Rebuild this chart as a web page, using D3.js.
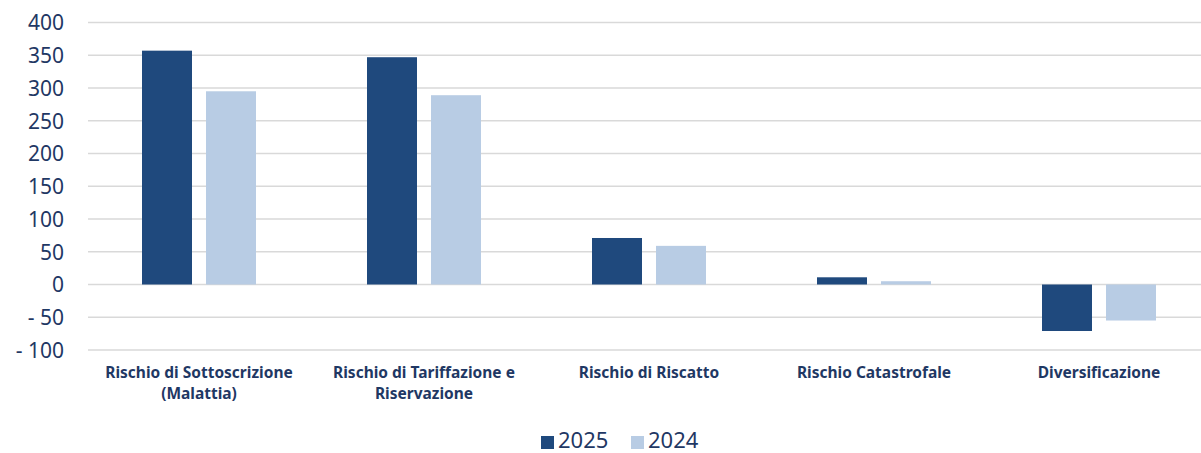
<!DOCTYPE html>
<html><head><meta charset="utf-8">
<script src="https://cdn.jsdelivr.net/npm/d3@7"></script>
<style>body{margin:0;background:#fff;} svg{display:block;}</style>
</head><body>
<svg id="chart" width="1201" height="453"></svg>
<script>
const categories = [["Rischio di Sottoscrizione","(Malattia)"],["Rischio di Tariffazione e","Riservazione"],["Rischio di Riscatto"],["Rischio Catastrofale"],["Diversificazione"]];
const seriesNames = ["2025","2024"];
const values2025 = [357, 347, 71, 11, -71];
const values2024 = [295, 289, 59, 5, -55];
const yTicks = [400,350,300,250,200,150,100,50,0,-50,-100];
const colors = ["#1f497d","#b8cce4"];
const textColor = "#1f3864";
const font = "'Noto Sans', 'DejaVu Sans', sans-serif";

(function(){
const svg = d3.select("#chart");
const gLeft = 88, gRight = 1201, mTop = 22.5, mBottom = 350;
const x = d3.scaleBand().domain(d3.range(categories.length)).range([86.5,1211.5]);
const y = d3.scaleLinear().domain([-100,400]).range([mBottom,mTop]);
const xs = d3.scaleBand().domain([0,1]).range([0,114]).paddingInner(0.219);

svg.append("g").selectAll("line").data(yTicks).join("line")
  .attr("x1",gLeft).attr("x2",gRight).attr("y1",d=>y(d)).attr("y2",d=>y(d))
  .attr("stroke","#d9d9d9").attr("stroke-width",1.5);

const yAxis = d3.axisLeft(y).tickValues(yTicks).tickSize(0).tickPadding(0)
  .tickFormat(d=> d<0 ? "- "+Math.abs(d) : d);
const ya = svg.append("g").attr("transform","translate(64,0)").call(yAxis);
ya.select(".domain").remove();
ya.selectAll("text").attr("fill",textColor).style("font-family",font).style("font-size","21px").attr("dy","0.35em");

const data = [values2025, values2024];
data.forEach((vals,si)=>{
  svg.append("g").selectAll("rect").data(vals).join("rect")
    .attr("x",(d,i)=>x(i)+x.bandwidth()/2-57+xs(si))
    .attr("width",xs.bandwidth())
    .attr("y",d=>y(Math.max(0,d)))
    .attr("height",d=>Math.abs(y(d)-y(0)))
    .attr("fill",colors[si]);
});

const lab = svg.append("g");
categories.forEach((lines,i)=>{
  lines.forEach((l,k)=>{
    lab.append("text").attr("x",x(i)+x.bandwidth()/2).attr("y",378+k*21)
      .attr("text-anchor","middle").attr("fill",textColor)
      .style("font-family",font).style("font-size","15.5px").style("font-weight","bold").text(l);
  });
});

const leg = svg.append("g");
const legX = [541, 631];
seriesNames.forEach((s,i)=>{
  leg.append("rect").attr("x",legX[i]).attr("y",436).attr("width",13).attr("height",13).attr("fill",colors[i]);
  leg.append("text").attr("x",legX[i]+17).attr("y",448).attr("fill",textColor)
    .style("font-family",font).style("font-size","22px").text(s);
});
})();
</script>
</body></html>
